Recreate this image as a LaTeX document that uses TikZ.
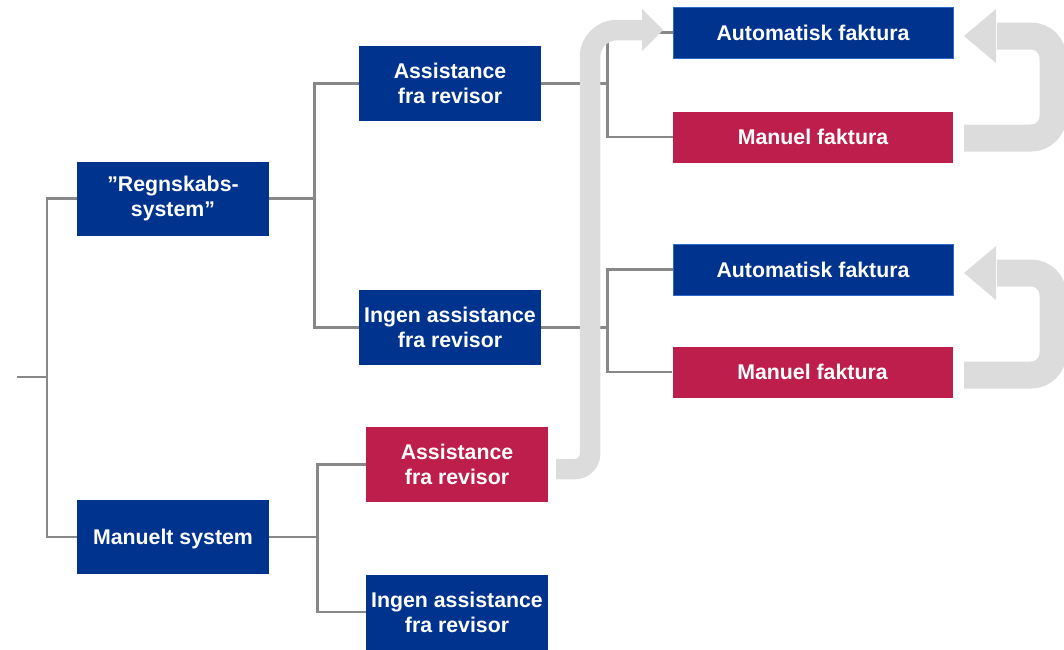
\documentclass[tikz,border=0pt]{standalone}
\usepackage{fontspec}
\setmainfont{Liberation Sans}
\definecolor{dkblue}{RGB}{0,51,141}
\definecolor{dkred}{RGB}{190,30,75}
\definecolor{bordblue}{RGB}{45,105,205}
\definecolor{linegray}{RGB}{136,136,136}
\definecolor{arrgray}{RGB}{220,220,220}
\begin{document}
\begin{tikzpicture}[x=1pt,y=-1pt,
  box/.style={inner sep=0pt, text=white, font=\fontsize{21.3}{25}\selectfont\bfseries, align=center},
  oneline/.style={text height=15.5pt, text depth=0pt},
  bluebox/.style={box, fill=dkblue},
  redbox/.style={box, fill=dkred},
  lvlA/.style={minimum width=192pt, minimum height=74pt},
  lvlB/.style={minimum width=182pt, minimum height=75pt},
  lvlC/.style={minimum width=280pt, minimum height=51pt, oneline},
  autobox/.style={bluebox, lvlC, draw=bordblue, line width=1pt},
  conn/.style={draw=linegray, line width=2.6pt},
  band/.style={draw=arrgray, line cap=butt},
  head/.style={fill=arrgray}]
\useasboundingbox (0,0) rectangle (1064,649);

% nodes
\node[bluebox, lvlA] (reg) at (173,198.5) {”Regnskabs-\\system”};
\node[bluebox, lvlA, oneline] (man) at (173,537) {Manuelt system};
\node[bluebox, lvlB] (a1) at (450,83.5) {Assistance\\fra revisor};
\node[bluebox, lvlB] (i1) at (450,327.5) {Ingen assistance\\fra revisor};
\node[redbox, lvlB] (a2) at (457,464.5) {Assistance\\fra revisor};
\node[bluebox, lvlB] (i2) at (457,612) {Ingen assistance\\fra revisor};
\node[autobox] (af1) at (813,32.5) {Automatisk faktura};
\node[redbox, lvlC] (mf1) at (813,137) {Manuel faktura};
\node[autobox] (af2) at (813,269.5) {Automatisk faktura};
\node[redbox, lvlC] (mf2) at (812.5,372) {Manuel faktura};

% connectors
\coordinate (root) at (17,377);
\draw[conn] (root) -- ([xshift=30pt]root);
\draw[conn] (reg.west) -| ([xshift=30pt]root) |- (man.west);
\draw[conn] (reg.east) -- ([xshift=45pt]reg.east);
\draw[conn] (a1.west) -| ([xshift=45pt]reg.east) |- (i1.west);
\draw[conn] (man.east) -- ([xshift=48pt]man.east);
\draw[conn] (a2.west) -| ([xshift=48pt]man.east) |- (i2.west);
\draw[conn] (a1.east) -- ([xshift=66pt]a1.east);
\draw[conn] (af1.west) -| ([xshift=66pt]a1.east) |- (mf1.west);
\draw[conn] (i1.east) -- ([xshift=66pt]i1.east);
\draw[conn] (af2.west) -| ([xshift=66pt]i1.east) |- (mf2.west);

% grey arrows
\draw[band, line width=20.5pt] (556,469) [rounded corners=15pt] -- (590,469) -- (590,250) [rounded corners=27pt] -- (590,30) -- (643,30);
\fill[head] (642,9) -- (663,30) -- (642,51) -- cycle;

\draw[band, line width=27pt, rounded corners=22pt] (964,138) -- (1053,138) -- (1053,36) -- (997,36);
\fill[head] (996,9) -- (964,36) -- (996,63) -- cycle;

\draw[band, line width=27pt, rounded corners=22pt] (964,375) -- (1053,375) -- (1053,273) -- (997,273);
\fill[head] (996,246) -- (964,273) -- (996,300) -- cycle;
\end{tikzpicture}
\end{document}
